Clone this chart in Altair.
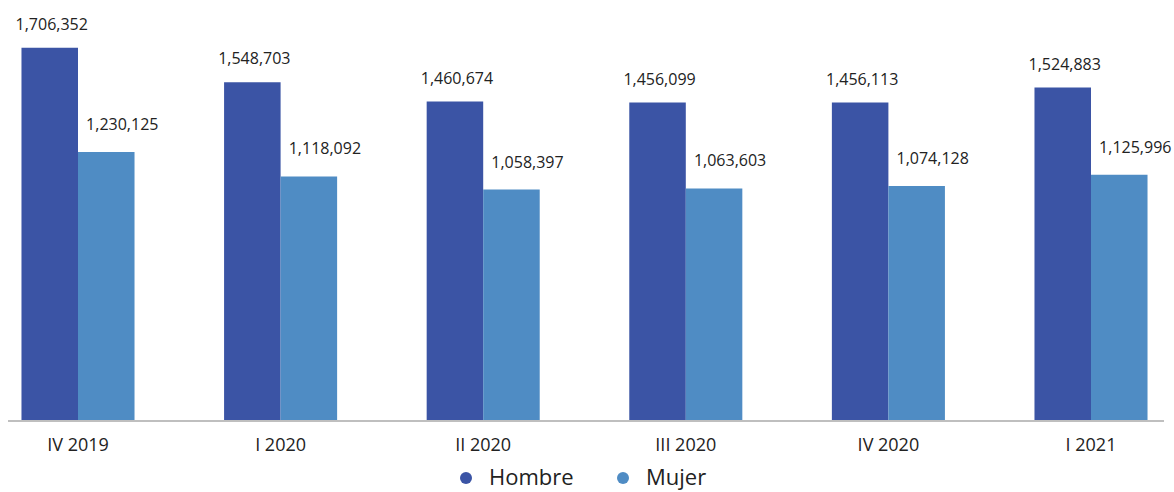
import altair as alt
import pandas as pd

# Quarterly totals by sex
trimestres = ["IV 2019", "I 2020", "II 2020", "III 2020", "IV 2020", "I 2021"]
hombre = [1706352, 1548703, 1460674, 1456099, 1456113, 1524883]
mujer = [1230125, 1118092, 1058397, 1063603, 1074128, 1125996]
series = ["Hombre", "Mujer"]
colores = ["#3B54A5", "#4F8CC4"]

rows = []
for t, h, m in zip(trimestres, hombre, mujer):
    rows.append({"Trimestre": t, "Sexo": "Hombre", "Valor": h})
    rows.append({"Trimestre": t, "Sexo": "Mujer", "Valor": m})
df = pd.DataFrame(rows)

FONT = "Open Sans"
W, H = 1169, 421

x_enc = alt.X(
    "Trimestre:N",
    sort=trimestres,
    scale=alt.Scale(paddingInner=0.442, paddingOuter=0.106),
    axis=alt.Axis(
        title=None, labelAngle=0, domain=False, ticks=False,
        labelPadding=15, labelFontSize=18, labelFont=FONT, labelColor="#222222",
    ),
)
y_enc = alt.Y(
    "Valor:Q",
    scale=alt.Scale(domain=[0, 1925000], nice=False),
    axis=None,
)
xoff = alt.XOffset("Sexo:N", sort=series, scale=alt.Scale(paddingInner=0, paddingOuter=0))

base = alt.Chart(df).encode(x=x_enc, xOffset=xoff)

bars = base.mark_bar().encode(
    y=y_enc,
    color=alt.Color(
        "Sexo:N",
        sort=series,
        scale=alt.Scale(domain=series, range=colores),
        legend=alt.Legend(
            title=None, orient="none", direction="horizontal",
            legendX=455, legendY=467, padding=0,
            symbolType="circle", symbolSize=144, symbolStrokeWidth=0,
            labelFont=FONT, labelFontSize=22, labelColor="#222222",
            labelOffset=12, columnPadding=38,
        ),
    ),
)

labels_h = base.mark_text(
    font=FONT, fontSize=16, color="#222222", baseline="bottom", dy=-15, dx=2,
).encode(
    y=y_enc, text=alt.Text("Valor:Q", format=",d"),
).transform_filter(alt.datum.Sexo == "Hombre")

labels_m = base.mark_text(
    font=FONT, fontSize=16, color="#222222", baseline="bottom", dy=-19, dx=16,
).encode(
    y=y_enc, text=alt.Text("Valor:Q", format=",d"),
).transform_filter(alt.datum.Sexo == "Mujer")

baseline = alt.Chart(df).mark_rule(color="#BFBFBF", strokeWidth=2).encode(
    x=alt.value(8), x2=alt.value(1164), y=alt.value(H)
)

chart = alt.layer(bars, baseline, labels_h, labels_m).properties(
    width=W, height=H,
    padding={"left": 0, "top": 0, "right": 0, "bottom": 30},
).configure_view(stroke=None)

chart.save("out.html", embed_options={"renderer": "svg", "actions": False})
